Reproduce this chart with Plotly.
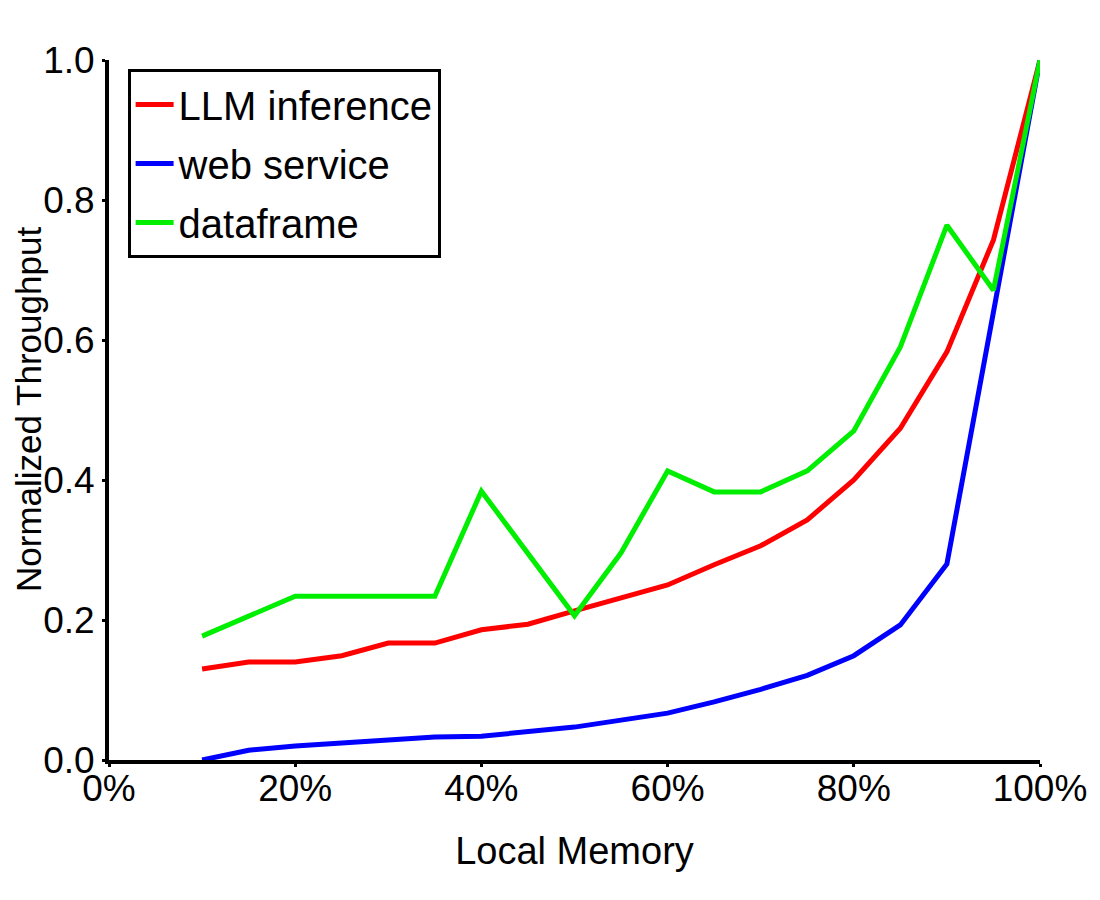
import plotly.graph_objects as go

local_memory = [10, 15, 20, 25, 30, 35, 40, 45, 50, 55, 60, 65, 70, 75, 80, 85, 90, 95, 100]
llm_inference = [0.130, 0.140, 0.140, 0.149, 0.167, 0.167, 0.186, 0.194, 0.213, 0.231, 0.250,
                 0.279, 0.306, 0.343, 0.400, 0.474, 0.583, 0.743, 1.0]
web_service = [0.000, 0.014, 0.020, 0.024, 0.028, 0.033, 0.034, 0.040, 0.047, 0.057, 0.067,
               0.083, 0.101, 0.121, 0.149, 0.193, 0.280, 0.640, 1.0]
dataframe = [0.177, 0.206, 0.234, 0.234, 0.234, 0.234, 0.384, 0.295, 0.206, 0.296, 0.413,
             0.383, 0.383, 0.413, 0.470, 0.590, 0.764, 0.671, 1.0]

x_ticks = [0, 20, 40, 60, 80, 100]
x_tick_labels = ["0%", "20%", "40%", "60%", "80%", "100%"]
y_ticks = [0.0, 0.2, 0.4, 0.6, 0.8, 1.0]
y_tick_labels = ["0.0", "0.2", "0.4", "0.6", "0.8", "1.0"]
x_title = "Local Memory"
y_title = "Normalized Throughput"

series = [
    ("LLM inference", llm_inference, "#ff0000"),
    ("web service", web_service, "#0000ff"),
    ("dataframe", dataframe, "#00ee00"),
]

fig = go.Figure()
for name, vals, color in series:
    fig.add_trace(go.Scatter(
        x=local_memory, y=vals, mode="lines", name=name, legendgroup=name,
        line=dict(color=color, width=5), cliponaxis=False,
    ))

font = "Liberation Sans, Arial, sans-serif"
fig.update_layout(
    width=1100, height=900,
    margin=dict(l=101, r=68, t=52, b=148),
    plot_bgcolor="white", paper_bgcolor="white",
    font=dict(family=font, size=37, color="black"),
    showlegend=True,
    legend=dict(
        x=0.02, y=0.987, xanchor="left", yanchor="top",
        bordercolor="black", borderwidth=3, bgcolor="white",
        font=dict(family=font, size=40, color="black"),
        tracegroupgap=4, traceorder="grouped",
        itemwidth=38,
    ),
    xaxis=dict(
        range=[0, 100], tickvals=x_ticks, ticktext=x_tick_labels,
        showline=True, linecolor="black", linewidth=4, mirror=False,
        ticks="outside", ticklen=3, tickwidth=3, tickcolor="black",
        ticklabelstandoff=-10,
        showgrid=False, zeroline=False, automargin=False,
        title=dict(text=x_title, font=dict(family=font, size=38), standoff=30),
        tickfont=dict(family=font, size=37),
    ),
    yaxis=dict(
        range=[0, 1.0], tickvals=y_ticks, ticktext=y_tick_labels,
        showline=True, linecolor="black", linewidth=4, mirror=False,
        ticks="outside", ticklen=3, tickwidth=3, tickcolor="black",
        showgrid=False, zeroline=False, automargin=False,
        tickfont=dict(family=font, size=37),
    ),
    annotations=[dict(
        text=y_title, xref="paper", yref="paper", x=-0.087, y=0.5,
        xanchor="center", yanchor="middle", textangle=-90, showarrow=False,
        font=dict(family=font, size=35, color="black"),
    )],
)

fig.write_html("out.html")
